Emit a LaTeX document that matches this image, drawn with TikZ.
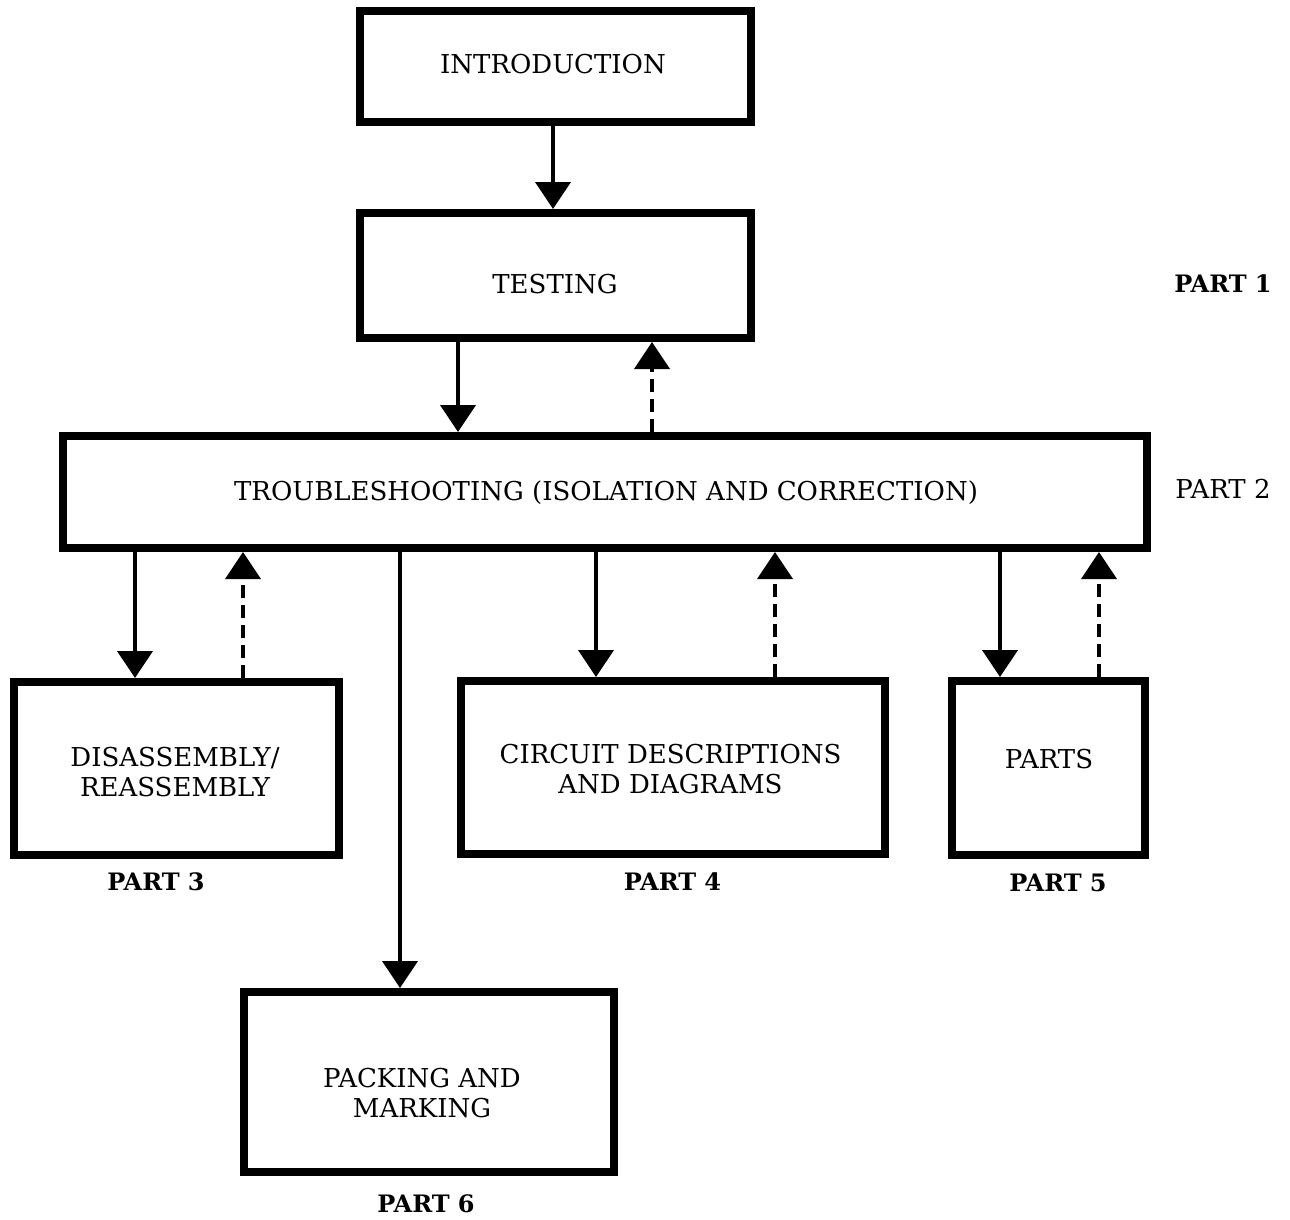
\documentclass[tikz,border=0pt]{standalone}
\usepackage{fontspec}
\setmainfont{DejaVu Serif}
\usetikzlibrary{arrows.meta}
\begin{document}
\begin{tikzpicture}[x=1pt,y=-1pt,
  box/.style={draw,line width=8pt,inner sep=0pt},
  txt/.style={font=\fontsize{26}{30}\selectfont, inner sep=0pt, align=center},
  plbl/.style={font=\fontsize{24}{28}\selectfont\bfseries, inner sep=0pt},
  arr/.style={line width=4pt,-{Triangle[width=35pt,length=27pt]}},
  dsh/.style={arr,dash pattern=on 13pt off 7pt}]
\useasboundingbox (0,0) rectangle (1290,1219);
% boxes
\node[box,minimum width=391pt,minimum height=111pt] (intro) at (555.5,66.5) {};
\node[box,minimum width=391pt,minimum height=125pt] (test) at (555.5,275.5) {};
\node[box,minimum width=1084pt,minimum height=112pt] (trouble) at (605,492) {};
\node[box,minimum width=325pt,minimum height=173pt] (disas) at (176.5,768.5) {};
\node[box,minimum width=424pt,minimum height=173pt] (circ) at (673,767.5) {};
\node[box,minimum width=193pt,minimum height=174pt] (parts) at (1048.5,768) {};
\node[box,minimum width=370pt,minimum height=180pt] (pack) at (429,1082) {};
% texts
\node[txt,anchor=base] (introT) at (553,73) {INTRODUCTION};
\node[txt,anchor=base] (testT) at (555,293) {TESTING};
\node[txt,anchor=base] (troubleT) at (606,500) {TROUBLESHOOTING (ISOLATION AND CORRECTION)};
\node[txt] (disasT) at (175,772.5) {DISASSEMBLY/\\REASSEMBLY};
\node[txt] (circT) at (670.5,769) {CIRCUIT DESCRIPTIONS\\AND DIAGRAMS};
\node[txt,anchor=base] (partsT) at (1049,768) {PARTS};
\node[txt] (packT) at (422,1093.5) {PACKING AND\\MARKING};
% part labels
\node[plbl,anchor=base] (p1) at (1223,292) {PART 1};
\node[txt,anchor=base] (p2) at (1223,498) {PART 2};
\node[plbl,anchor=base] (p3) at (156,890) {PART 3};
\node[plbl,anchor=base] (p4) at (672.5,890) {PART 4};
\node[plbl,anchor=base] (p5) at (1058,891) {PART 5};
\node[plbl,anchor=base] (p6) at (426,1212) {PART 6};
% connectors
\draw[arr] (intro.south -| 553,0) -- (test.north -| 553,0);
\draw[arr] (test.south -| 458,0) -- (trouble.north -| 458,0);
\draw[dsh] (trouble.north -| 652,0) -- (test.south -| 652,0);
\draw[arr] (trouble.south -| 135,0) -- (disas.north -| 135,0);
\draw[dsh] (disas.north -| 243,0) -- (trouble.south -| 243,0);
\draw[arr] (trouble.south -| 596,0) -- (circ.north -| 596,0);
\draw[dsh] (circ.north -| 775,0) -- (trouble.south -| 775,0);
\draw[arr] (trouble.south -| 1000,0) -- (parts.north -| 1000,0);
\draw[dsh] (parts.north -| 1099,0) -- (trouble.south -| 1099,0);
\draw[arr] (trouble.south -| 400,0) -- (pack.north -| 400,0);
\end{tikzpicture}
\end{document}
